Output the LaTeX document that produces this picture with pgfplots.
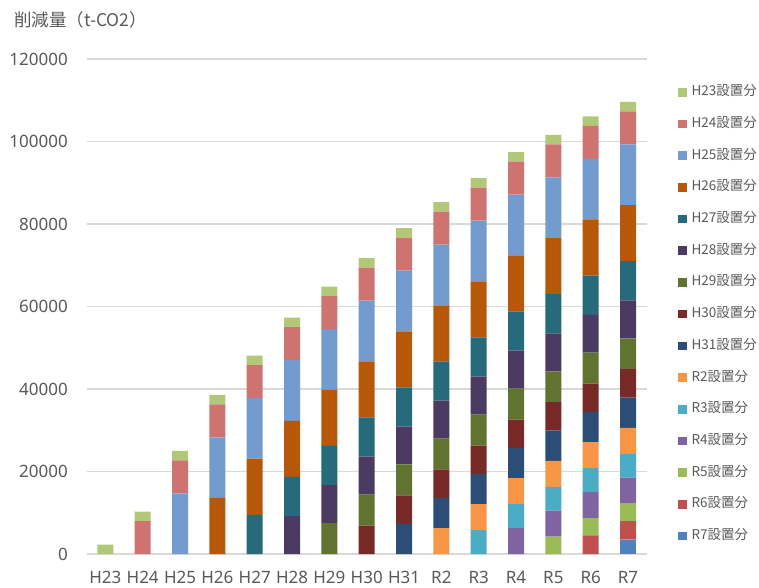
\documentclass[border=0pt]{standalone}
\usepackage{fontspec}
\setmainfont{Noto Sans}
\newfontfamily\cjk{Noto Sans CJK JP}
\usepackage{pgfplots}
\usepackage{pgfplotstable}
\pgfplotsset{compat=1.18}
\definecolor{cH23}{HTML}{B0C878}
\definecolor{cH24}{HTML}{CF7370}
\definecolor{cH25}{HTML}{739BCD}
\definecolor{cH26}{HTML}{B75709}
\definecolor{cH27}{HTML}{266A7B}
\definecolor{cH28}{HTML}{4B3A61}
\definecolor{cH29}{HTML}{60732F}
\definecolor{cH30}{HTML}{782A29}
\definecolor{cH31}{HTML}{2C4D75}
\definecolor{cR2}{HTML}{F79646}
\definecolor{cR3}{HTML}{4BACC6}
\definecolor{cR4}{HTML}{8064A2}
\definecolor{cR5}{HTML}{9BBB59}
\definecolor{cR6}{HTML}{C0504D}
\definecolor{cR7}{HTML}{4F81BD}
\definecolor{labgray}{HTML}{595959}
\definecolor{gridgray}{HTML}{D9D9D9}
\pgfplotstableread{
x  H23  H24  H25   H26   H27  H28  H29  H30  H31  R2   R3   R4   R5   R6   R7
0  2300 0    0     0     0    0    0    0    0    0    0    0    0    0    0
1  2300 8000 0     0     0    0    0    0    0    0    0    0    0    0    0
2  2300 8000 14700 0     0    0    0    0    0    0    0    0    0    0    0
3  2300 8000 14700 13600 0    0    0    0    0    0    0    0    0    0    0
4  2300 8000 14700 13600 9500 0    0    0    0    0    0    0    0    0    0
5  2300 8000 14700 13600 9500 9200 0    0    0    0    0    0    0    0    0
6  2300 8000 14700 13600 9500 9200 7500 0    0    0    0    0    0    0    0
7  2300 8000 14700 13600 9500 9200 7500 6900 0    0    0    0    0    0    0
8  2300 8000 14700 13600 9500 9200 7500 6900 7300 0    0    0    0    0    0
9  2300 8000 14700 13600 9500 9200 7500 6900 7300 6300 0    0    0    0    0
10 2300 8000 14700 13600 9500 9200 7500 6900 7300 6300 5800 0    0    0    0
11 2300 8000 14700 13600 9500 9200 7500 6900 7300 6300 5800 6300 0    0    0
12 2300 8000 14700 13600 9500 9200 7500 6900 7300 6300 5800 6300 4200 0    0
13 2300 8000 14700 13600 9500 9200 7500 6900 7300 6300 5800 6300 4200 4500 0
14 2300 8000 14700 13600 9500 9200 7500 6900 7300 6300 5800 6300 4200 4500 3500
}\datatable
\begin{document}
\begin{tikzpicture}
\path[use as bounding box] (0,0) rectangle (759pt,587pt);
\node[anchor=west, inner sep=0pt, text=labgray, font=\cjk\fontsize{17.5}{21}\selectfont] at (14pt,567pt) {削減量（t-CO2）};
\begin{axis}[
  at={(86.7pt,33pt)}, anchor=south west,
  scale only axis, width=560pt, height=495pt,
  ybar stacked, bar width=16pt,
  xmin=-0.5, xmax=14.5, ymin=0, ymax=120000,
  xtick={0,...,14},
  xticklabels={H23,H24,H25,H26,H27,H28,H29,H30,H31,R2,R3,R4,R5,R6,R7},
  ytick={0,20000,...,120000},
  scaled y ticks=false,
  yticklabel={\pgfmathprintnumber[fixed,precision=0,1000 sep={},assume math mode=true]{\tick}},
  ymajorgrids, major grid style={draw=gridgray, line width=1.2pt},
  axis line style={draw=none},
  major tick length=0pt, tick style={draw=none},
  ticklabel style={font=\fontsize{17}{20}\selectfont, text=labgray, inner sep=0pt},
  yticklabel style={anchor=east, xshift=-18.7pt},
  xticklabel style={anchor=base, yshift=-29pt},
  legend image code/.code={\fill[#1] (0pt,-4.3pt) rectangle (8.6pt,4.3pt);},
  reverse legend,
  legend cell align=left,
  legend style={at={(1.056,0.945)}, anchor=north west, draw=none, fill=none,
    inner sep=0pt, outer sep=0pt, row sep=19.7pt, column sep=5pt,
    nodes={inner sep=0pt, text height=9.5pt, text depth=2.5pt},
    font=\cjk\fontsize{13.5}{16}\selectfont, text=labgray},
]
\addplot[fill=cR7, draw=none] table[x=x,y=R7]{\datatable}; \addlegendentry{R7設置分}
\addplot[fill=cR6, draw=none] table[x=x,y=R6]{\datatable}; \addlegendentry{R6設置分}
\addplot[fill=cR5, draw=none] table[x=x,y=R5]{\datatable}; \addlegendentry{R5設置分}
\addplot[fill=cR4, draw=none] table[x=x,y=R4]{\datatable}; \addlegendentry{R4設置分}
\addplot[fill=cR3, draw=none] table[x=x,y=R3]{\datatable}; \addlegendentry{R3設置分}
\addplot[fill=cR2, draw=none] table[x=x,y=R2]{\datatable}; \addlegendentry{R2設置分}
\addplot[fill=cH31, draw=none] table[x=x,y=H31]{\datatable}; \addlegendentry{H31設置分}
\addplot[fill=cH30, draw=none] table[x=x,y=H30]{\datatable}; \addlegendentry{H30設置分}
\addplot[fill=cH29, draw=none] table[x=x,y=H29]{\datatable}; \addlegendentry{H29設置分}
\addplot[fill=cH28, draw=none] table[x=x,y=H28]{\datatable}; \addlegendentry{H28設置分}
\addplot[fill=cH27, draw=none] table[x=x,y=H27]{\datatable}; \addlegendentry{H27設置分}
\addplot[fill=cH26, draw=none] table[x=x,y=H26]{\datatable}; \addlegendentry{H26設置分}
\addplot[fill=cH25, draw=none] table[x=x,y=H25]{\datatable}; \addlegendentry{H25設置分}
\addplot[fill=cH24, draw=none] table[x=x,y=H24]{\datatable}; \addlegendentry{H24設置分}
\addplot[fill=cH23, draw=none] table[x=x,y=H23]{\datatable}; \addlegendentry{H23設置分}
\end{axis}
\end{tikzpicture}
\end{document}
